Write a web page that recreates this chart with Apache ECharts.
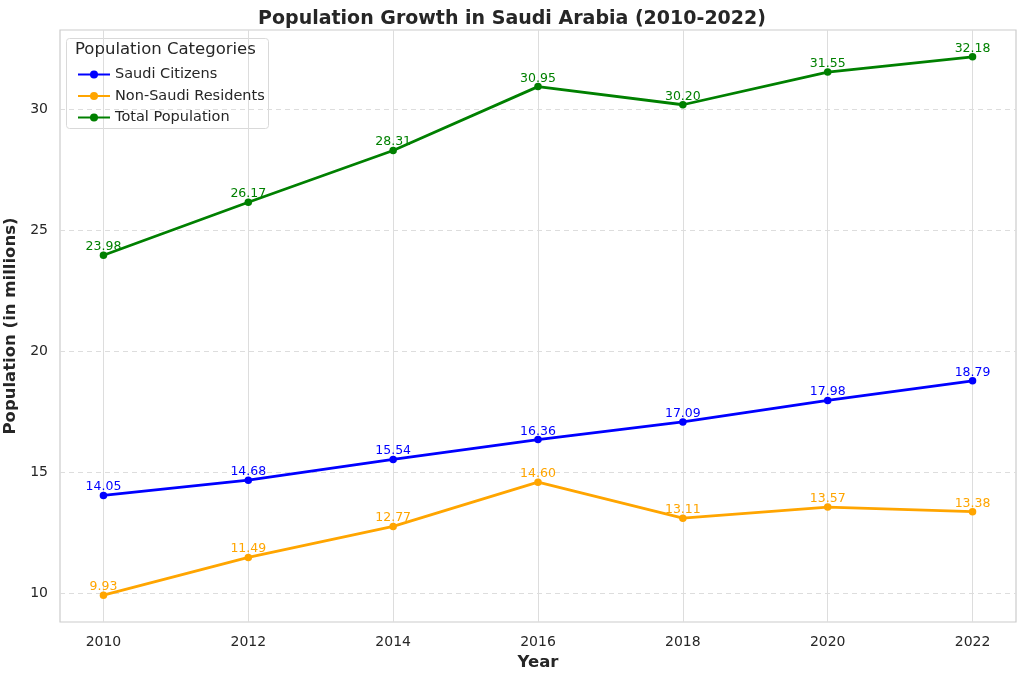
<!DOCTYPE html>
<html>
<head>
<meta charset="utf-8">
<script src="https://cdn.jsdelivr.net/npm/echarts@6/dist/echarts.min.js"></script>
<style>
  html, body { margin: 0; padding: 0; background: #fff; }
  #chart { width: 1024px; height: 678px; }
</style>
</head>
<body>
<div id="chart"></div>
<script>
  // data
  const years = [2010, 2012, 2014, 2016, 2018, 2020, 2022];
  const saudiCitizens = [14.05, 14.68, 15.54, 16.36, 17.09, 17.98, 18.79];
  const nonSaudi = [9.93, 11.49, 12.77, 14.60, 13.11, 13.57, 13.38];
  const totalPop = [23.98, 26.17, 28.31, 30.95, 30.20, 31.55, 32.18];
  const yTicks = [10, 15, 20, 25, 30];

  const font = 'DejaVu Sans';

  function mkSeries(name, vals, color) {
    return {
      name: name,
      type: 'line',
      data: years.map((y, i) => [y, vals[i]]),
      symbol: 'circle',
      symbolSize: 7.5,
      lineStyle: { color: color, width: 2.8 },
      itemStyle: { color: color },
      label: {
        show: true,
        position: 'top',
        distance: -2,
        color: color,
        fontFamily: font,
        fontSize: 12.5,
        formatter: p => p.value[1].toFixed(2)
      }
    };
  }

  const chart = echarts.init(document.getElementById('chart'));
  chart.setOption({
    animation: false,
    title: {
      text: 'Population Growth in Saudi Arabia (2010-2022)',
      left: 'center',
      top: 5,
      textStyle: { fontFamily: font, fontSize: 19, fontWeight: 'bold', color: '#262626' }
    },
    grid: {
      left: 60, right: 8, top: 30, bottom: 56,
      outerBoundsMode: 'none',
      show: true, borderColor: '#cccccc', borderWidth: 1.2
    },
    legend: {
      left: 72, top: 62, orient: 'vertical',
      itemWidth: 32, itemHeight: 10, itemGap: 6.5,
      textStyle: { fontFamily: font, fontSize: 14.5, color: '#262626' },
      data: ['Saudi Citizens', 'Non-Saudi Residents', 'Total Population']
    },
    graphic: [
      {
        type: 'rect', left: 66, top: 38, z: 0,
        shape: { width: 202, height: 90, r: 3 },
        style: { fill: 'rgba(255,255,255,0.85)', stroke: '#d9d9d9', lineWidth: 1 }
      },
      {
        type: 'text', left: 75, top: 41, z: 1,
        style: { text: 'Population Categories', font: '16.5px "DejaVu Sans"', fill: '#262626' }
      }
    ],
    xAxis: {
      type: 'value',
      min: 2009.4, max: 2022.6,
      name: 'Year', nameLocation: 'middle', nameGap: 30,
      nameTextStyle: { fontFamily: font, fontSize: 16.5, fontWeight: 'bold', color: '#262626' },
      axisLine: { show: false },
      axisTick: { show: false, customValues: years },
      axisLabel: {
        customValues: years, formatter: v => String(v),
        fontFamily: font, fontSize: 14, color: '#262626', margin: 13
      },
      splitLine: { show: true, lineStyle: { color: '#dddddd', width: 1 } }
    },
    yAxis: {
      type: 'value',
      min: 8.82, max: 33.29,
      name: 'Population (in millions)', nameLocation: 'middle', nameGap: 40,
      nameTextStyle: { fontFamily: font, fontSize: 16.5, fontWeight: 'bold', color: '#262626' },
      axisLine: { show: false },
      axisTick: { show: false, customValues: yTicks },
      axisLabel: {
        customValues: yTicks, formatter: v => String(v),
        fontFamily: font, fontSize: 14, color: '#262626', margin: 12
      },
      splitLine: { show: true, lineStyle: { color: '#dddddd', width: 1, type: [5, 4] } }
    },
    series: [
      mkSeries('Saudi Citizens', saudiCitizens, '#0000ff'),
      mkSeries('Non-Saudi Residents', nonSaudi, '#ffa500'),
      mkSeries('Total Population', totalPop, '#008000')
    ]
  });
</script>
</body>
</html>
